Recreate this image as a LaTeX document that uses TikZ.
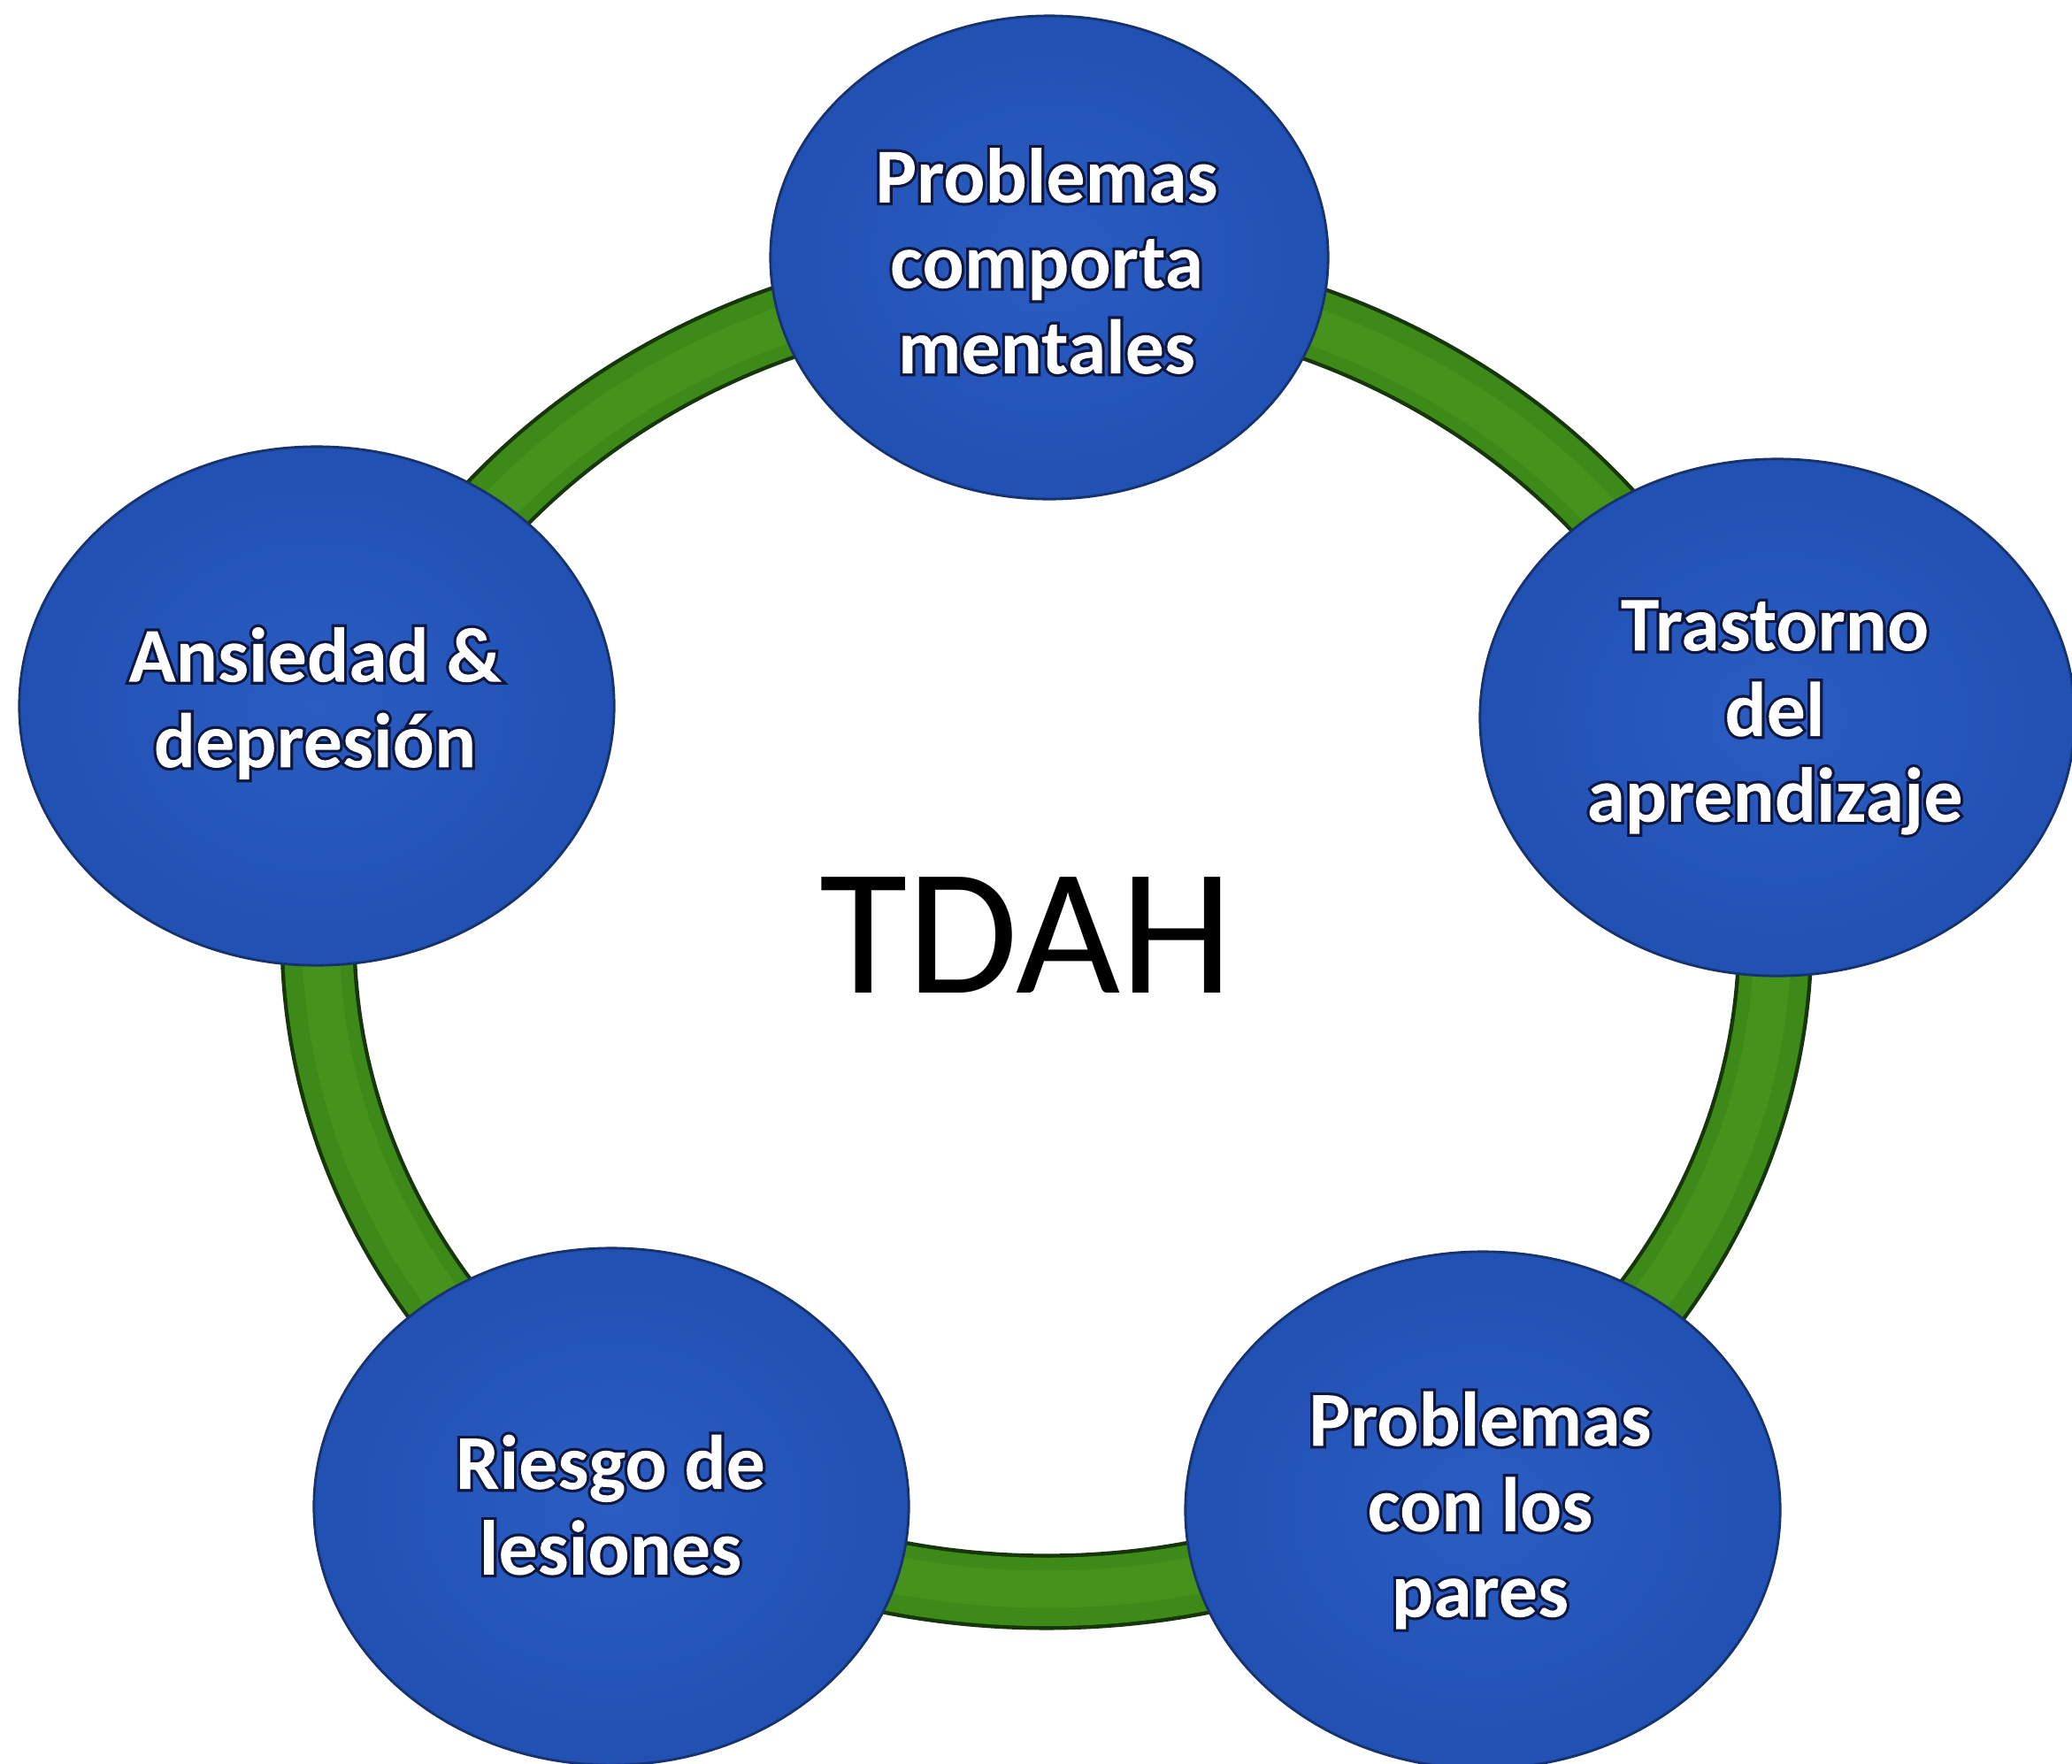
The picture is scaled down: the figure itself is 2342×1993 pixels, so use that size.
\documentclass[tikz,border=0pt]{standalone}
\usepackage{fontspec}
\setmainfont{Carlito}[BoldFont={Carlito Bold}]
\newfontfamily\lblfont{Carlito Bold}
\usetikzlibrary{shapes.geometric}
\definecolor{ringdark}{HTML}{17360A}
\definecolor{ringmid}{HTML}{3E8A18}
\definecolor{ringlight}{HTML}{4A981F}
\definecolor{discA}{HTML}{2A5CC2}
\definecolor{discB}{HTML}{204FB0}
\definecolor{discC}{HTML}{326BD2}
\definecolor{discedge}{HTML}{17336E}
\pgfdeclareradialshading{discshade}{\pgfpoint{0bp}{0bp}}{color(0bp)=(discA); color(28bp)=(discB); color(44bp)=(discC); color(50bp)=(discC)}
\makeatletter
\newcommand\ol[1]{\pgfsys@beginscope\pgfsys@invoke{6 Tr 1.8 w 0.05 0.09 0.25 RG }#1\pgfsys@invoke{0 Tr 1 1 1 rg -9000 -9000 18000 18000 re f }\pgfsys@endscope}
\makeatother
\tikzset{
  disc/.style={ellipse, shading=discshade, draw=discedge, line width=0.8pt, inner sep=0pt},
  lbl/.style={font=\lblfont\fontsize{25}{27.5}\selectfont, align=center, inner sep=0pt, text=white},
}
\begin{document}
\begin{tikzpicture}[x=0.01cm, y=-0.01cm]
\useasboundingbox (0,0) rectangle (2342,1993);
% ring
\coordinate (ringc) at (1183,1057);
\draw[ringdark, line width=24.5pt] (ringc) ellipse [x radius=8.23cm, y radius=7.42cm];
\draw[ringmid, line width=22pt] (ringc) ellipse [x radius=8.23cm, y radius=7.42cm];
\draw[ringlight, line width=12pt, opacity=0.6] (ringc) ellipse [x radius=8.20cm, y radius=7.39cm];
% discs
\node[disc, minimum width=6.30cm, minimum height=5.46cm] (ctop) at (1186,291) {};
\node[disc, minimum width=6.72cm, minimum height=5.86cm] (cleft) at (358,798) {};
\node[disc, minimum width=6.72cm, minimum height=5.84cm] (cright) at (2009,811) {};
\node[disc, minimum width=6.72cm, minimum height=5.84cm] (cbl) at (691,1703) {};
\node[disc, minimum width=6.72cm, minimum height=5.84cm] (cbr) at (1676,1707) {};
% labels
\node[lbl] (ttop) at (1183,295) {\ol{Problemas}\\\ol{comporta}\\\ol{mentales}};
\node[lbl] (tleft) at (356,795) {\ol{Ansiedad \&}\\\ol{depresión}};
\node[lbl] (tright) at (2006,811) {\ol{Trastorno}\\\ol{del}\\\ol{aprendizaje}};
\node[lbl] (tbl) at (690,1701) {\ol{Riesgo de}\\\ol{lesiones}};
\node[lbl] (tbr) at (1673,1707) {\ol{Problemas}\\\ol{con los}\\\ol{pares}};
% centre
\node[font=\fontsize{58}{62}\selectfont, text=black] (tdah) at (1160,1057) {TDAH};
\end{tikzpicture}
\end{document}
